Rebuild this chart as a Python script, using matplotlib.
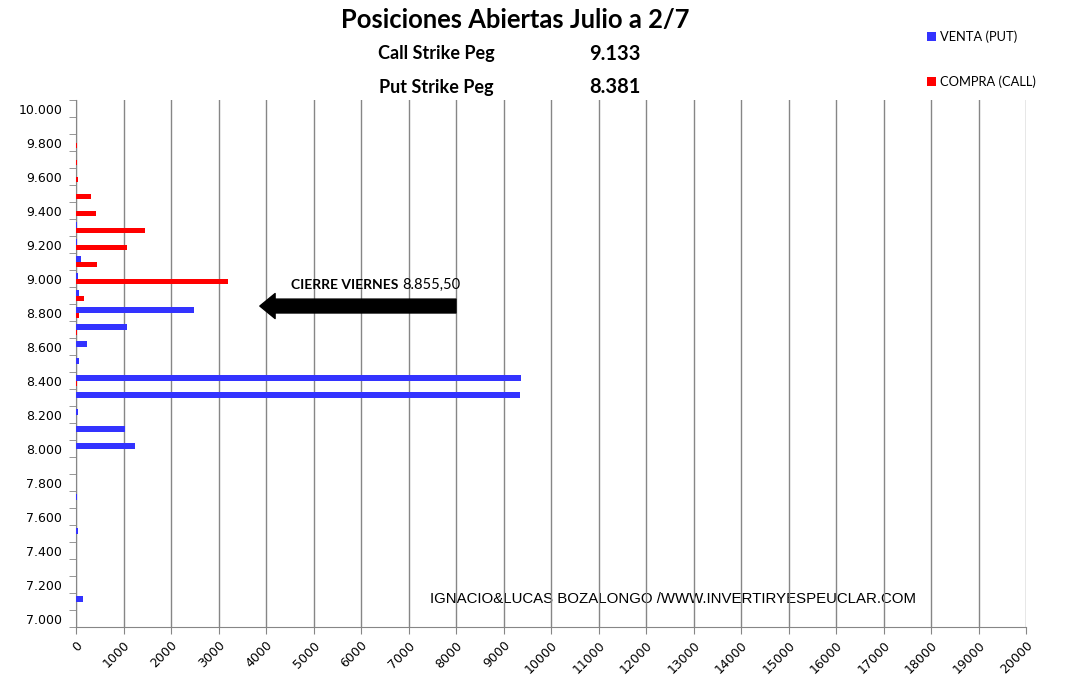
import matplotlib.pyplot as plt
from matplotlib.ticker import MultipleLocator, FixedLocator

# strikes 7.000 .. 10.000 (step 100)
strikes = [7000 + 100 * i for i in range(31)]
venta_put = [0, 140, 10, 10, 10, 35, 10, 15, 10, 10,
             1235, 1040, 35, 9345, 9370, 60, 235, 1065, 2485, 65,
             35, 100, 15, 15, 10, 10, 10, 0, 0, 0, 0]
compra_call = [10, 5, 0, 10, 0, 0, 0, 0, 0, 0,
               10, 10, 10, 0, 15, 10, 10, 15, 65, 165,
               3210, 445, 1070, 1450, 430, 320, 40, 20, 20, 0, 0]

title = 'Posiciones Abiertas Julio a 2/7'
call_peg = '9.133'
put_peg = '8.381'
cierre = '8.855,50'

W, H = 1069, 686
fig = plt.figure(figsize=(W / 100, H / 100), dpi=100)
ax = fig.add_axes([76 / W, 1 - 627 / H, 950 / W, 527 / H])

pos = list(range(len(strikes)))
h = 0.34
ax.barh([p + h / 2 for p in pos], venta_put, height=h, color='#3333ff', label='VENTA (PUT)', zorder=3)
ax.barh([p - h / 2 for p in pos], compra_call, height=h, color='#ff0000', label='COMPRA (CALL)', zorder=3)

ax.set_xlim(0, 20000)
ax.set_ylim(-0.5, len(strikes) - 0.5)

ax.xaxis.set_major_locator(MultipleLocator(1000))
ax.grid(axis='x', color='#868686', linewidth=1)
ax.set_axisbelow(True)
ax.tick_params(axis='x', colors='#868686', length=5, labelcolor='black', labelsize=9)
for lab in ax.get_xticklabels():
    lab.set_rotation(45)
    lab.set_ha('right')
    lab.set_rotation_mode('anchor')

ax.yaxis.set_major_locator(FixedLocator(pos[::2]))
ax.set_yticklabels([f'{s / 1000:.3f}' for s in strikes[::2]])
ax.yaxis.set_minor_locator(FixedLocator([p + 0.5 for p in range(-1, len(strikes))]))
ax.tick_params(axis='y', which='major', length=0, pad=10, labelsize=9)
ax.tick_params(axis='y', which='minor', length=5, color='#868686')

for s in ['top', 'right']:
    ax.spines[s].set_visible(False)
for s in ['left', 'bottom']:
    ax.spines[s].set_color('#868686')

# arrow for Friday close
ax.annotate('', xy=(3870, 18.38), xytext=(8000, 18.38),
            arrowprops=dict(arrowstyle='simple,head_length=1.1,head_width=1.8,tail_width=1.0',
                            mutation_scale=10, fc='black', ec='black', shrinkA=0, shrinkB=0),
            zorder=5)

t1 = fig.text(291 / W, 1 - 285 / H, 'CIERRE VIERNES', fontsize=10, fontweight='bold',
              family='Lato', va='center', ha='left')
r = fig.canvas.get_renderer()
x_end = t1.get_window_extent(r).x1
fig.text((x_end + 4) / W, 1 - 285 / H, cierre, fontsize=10.5, family='Lato', va='center', ha='left')

# watermark (below the grid lines, like the original)
ax.text(673 / W, 1 - 599 / H, 'IGNACIO&LUCAS BOZALONGO /WWW.INVERTIRYESPEUCLAR.COM',
        transform=fig.transFigure, fontsize=10.8, family='Liberation Sans',
        ha='center', va='center', zorder=0.2)

fig.text(515 / W, 1 - 20 / H, title, fontsize=18.4, fontweight='bold', family='Lato',
         ha='center', va='center')
fig.text(436 / W, 1 - 54 / H, 'Call Strike Peg', fontsize=13, fontweight='bold', family='Lato',
         ha='center', va='center')
fig.text(615 / W, 1 - 54 / H, call_peg, fontsize=14.5, fontweight='bold', family='Lato',
         ha='center', va='center')
fig.text(436 / W, 1 - 87 / H, 'Put Strike Peg', fontsize=13, fontweight='bold', family='Lato',
         ha='center', va='center')
fig.text(615 / W, 1 - 87 / H, put_peg, fontsize=14.5, fontweight='bold', family='Lato',
         ha='center', va='center')

fig.legend(loc='upper left', bbox_to_anchor=(915 / W, 1 - 19 / H), frameon=False,
           labelspacing=2.5, handlelength=0.7, handleheight=0.7, handletextpad=0.3,
           prop={'family': 'Lato', 'size': 9.3})

fig.savefig('out.png', dpi=100)
